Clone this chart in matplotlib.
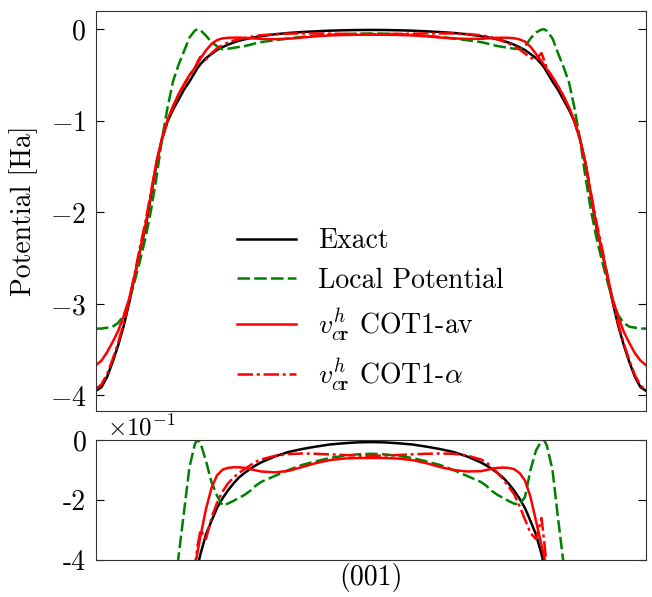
import numpy as np
import matplotlib
matplotlib.use("Agg")
import matplotlib.pyplot as plt

plt.rcParams["font.family"] = "serif"
plt.rcParams["font.serif"] = ["cmr10"]
plt.rcParams["mathtext.fontset"] = "cm"
plt.rcParams["axes.formatter.use_mathtext"] = True
plt.rcParams["font.size"] = 20

# position along the (001) direction, fraction of the cell
pos = [0.00, 0.01, 0.02, 0.03, 0.04, 0.05, 0.06, 0.07, 0.08, 0.09,
       0.10, 0.11, 0.12, 0.13, 0.14, 0.15, 0.16, 0.17, 0.18, 0.185,
       0.19, 0.20, 0.21, 0.22, 0.23, 0.24, 0.25, 0.26, 0.27, 0.28,
       0.29, 0.30, 0.325, 0.35, 0.375, 0.40, 0.425, 0.45, 0.475, 0.50,
       0.525, 0.55, 0.575, 0.60, 0.625, 0.65, 0.675, 0.70, 0.71, 0.72,
       0.73, 0.74, 0.75, 0.76, 0.77, 0.78, 0.79, 0.80, 0.81, 0.815,
       0.82, 0.83, 0.84, 0.85, 0.86, 0.87, 0.88, 0.89, 0.90, 0.91,
       0.92, 0.93, 0.94, 0.95, 0.96, 0.97, 0.98, 0.99, 1.00]

exact = [-3.95, -3.91, -3.80, -3.64, -3.46, -3.25, -3.00, -2.71, -2.42, -2.17,
         -1.82, -1.47, -1.20, -1.01, -0.88, -0.77, -0.66, -0.57, -0.47, -0.42,
         -0.38, -0.315, -0.27, -0.227, -0.195, -0.168, -0.145, -0.125, -0.11, -0.097,
         -0.085, -0.075, -0.055, -0.04, -0.03, -0.022, -0.015, -0.011, -0.008, -0.007,
         -0.008, -0.011, -0.015, -0.022, -0.03, -0.04, -0.055, -0.075, -0.085, -0.097,
         -0.11, -0.125, -0.145, -0.168, -0.195, -0.227, -0.27, -0.315, -0.38, -0.42,
         -0.47, -0.57, -0.66, -0.77, -0.88, -1.01, -1.20, -1.47, -1.82, -2.17,
         -2.42, -2.71, -3.00, -3.25, -3.46, -3.64, -3.80, -3.91, -3.95]

local = [-3.27, -3.27, -3.26, -3.25, -3.21, -3.13, -2.98, -2.76, -2.53, -2.28,
         -1.98, -1.62, -1.20, -0.86, -0.57, -0.39, -0.24, -0.09, -0.012, 0.0,
         -0.01, -0.07, -0.14, -0.185, -0.218, -0.212, -0.203, -0.193, -0.183, -0.17,
         -0.153, -0.14, -0.12, -0.10, -0.083, -0.071, -0.06, -0.053, -0.048, -0.046,
         -0.048, -0.053, -0.06, -0.071, -0.083, -0.10, -0.12, -0.14, -0.153, -0.17,
         -0.183, -0.193, -0.203, -0.212, -0.215, -0.19, -0.10, -0.035, -0.003, 0.0,
         -0.02, -0.10, -0.26, -0.41, -0.58, -0.86, -1.20, -1.62, -1.98, -2.28,
         -2.53, -2.76, -2.98, -3.13, -3.21, -3.25, -3.26, -3.27, -3.27]

cot1_av = [-3.67, -3.62, -3.53, -3.42, -3.30, -3.14, -2.95, -2.70, -2.42, -2.14,
           -1.80, -1.45, -1.19, -0.99, -0.84, -0.71, -0.60, -0.50, -0.42, -0.37,
           -0.32, -0.23, -0.16, -0.118, -0.099, -0.093, -0.091, -0.091, -0.093, -0.097,
           -0.101, -0.105, -0.108, -0.103, -0.09, -0.077, -0.067, -0.062, -0.06, -0.06,
           -0.06, -0.062, -0.067, -0.077, -0.09, -0.10, -0.105, -0.104, -0.10, -0.096,
           -0.093, -0.092, -0.093, -0.097, -0.11, -0.135, -0.19, -0.27, -0.35, -0.39,
           -0.44, -0.53, -0.62, -0.73, -0.85, -1.00, -1.20, -1.46, -1.81, -2.15,
           -2.43, -2.71, -2.96, -3.15, -3.31, -3.43, -3.54, -3.62, -3.67]

cot1_alpha = [-3.93, -3.88, -3.77, -3.61, -3.43, -3.22, -2.97, -2.68, -2.38, -2.10,
              -1.78, -1.45, -1.20, -1.00, -0.85, -0.72, -0.61, -0.51, -0.42, -0.35,
              -0.30, -0.33, -0.26, -0.21, -0.172, -0.145, -0.125, -0.11, -0.097, -0.085,
              -0.073, -0.065, -0.053, -0.047, -0.045, -0.046, -0.048, -0.05, -0.052, -0.053,
              -0.052, -0.05, -0.048, -0.046, -0.045, -0.046, -0.052, -0.065, -0.075, -0.09,
              -0.11, -0.13, -0.155, -0.18, -0.22, -0.265, -0.31, -0.33, -0.26, -0.34,
              -0.43, -0.52, -0.62, -0.73, -0.86, -1.01, -1.21, -1.46, -1.79, -2.11,
              -2.39, -2.69, -2.98, -3.23, -3.44, -3.62, -3.78, -3.89, -3.94]

labels = ["Exact", "Local Potential",
          r"$v^h_{c\mathbf{r}}$ COT1-av", r"$v^h_{c\mathbf{r}}$ COT1-$\alpha$"]

fig = plt.figure(figsize=(6.52, 5.97), dpi=100)
ax = fig.add_axes([0.1472, 0.3116, 0.8436, 0.670])
axz = fig.add_axes([0.1472, 0.062, 0.8436, 0.201])

LW = 1.8


def draw(a):
    a.plot(pos, exact, color="black", lw=LW, label=labels[0])
    a.plot(pos, local, color="green", lw=LW, dashes=(5.0, 1.7), label=labels[1])
    a.plot(pos, cot1_av, color="red", lw=LW, label=labels[2])
    a.plot(pos, cot1_alpha, color="red", lw=LW, dashes=(6.2, 1.5, 1.2, 1.5),
           label=labels[3])
    a.set_xlim(0, 1)
    a.set_xticks([])
    a.tick_params(axis="y", direction="in", right=True, length=6, pad=7)
    for s in a.spines.values():
        s.set_color("#333333")


draw(ax)
ax.set_ylim(-4.17, 0.2)
ax.set_yticks([-4, -3, -2, -1, 0])
ax.set_ylabel("Potential [Ha]", labelpad=8)
ax.legend(loc="center left", bbox_to_anchor=(0.211, 0.251), frameon=False,
          handlelength=2.12, handletextpad=0.8, labelspacing=0.47)

draw(axz)
axz.set_ylim(-0.4, 0)
axz.set_yticks([-0.4, -0.2, 0])
axz.set_yticklabels(["-4", "-2", "0"])
axz.text(0.02, 1.0, r"$\times10^{-1}$", transform=axz.transAxes,
         ha="left", va="bottom", fontsize=18)
axz.set_xlabel("(001)", labelpad=2)

fig.savefig("out.png", dpi=100)
